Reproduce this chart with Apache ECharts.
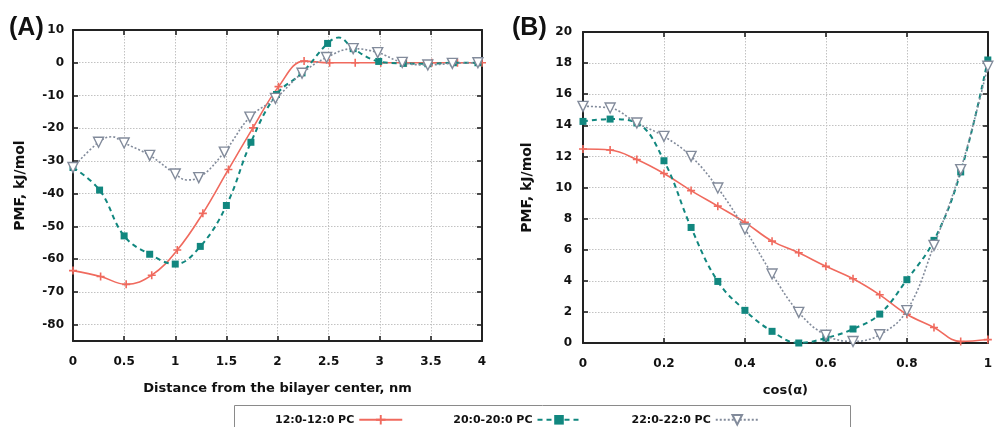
<!DOCTYPE html>
<html>
<head>
<meta charset="utf-8">
<script src="https://cdn.jsdelivr.net/npm/echarts@6/dist/echarts.min.js"></script>
<style>
  html, body { margin: 0; padding: 0; background: #fff; }
  #chart { width: 995px; height: 427px; }
</style>
</head>
<body>
<div id="chart"></div>
<script>
// Series names (lipid tails)
const seriesNames = ['12:0-12:0 PC', '20:0-20:0 PC', '22:0-22:0 PC'];

// Panel A: PMF (kJ/mol) vs distance from bilayer center (nm), points with markers
const pc12A = [[0,-63.5],[0.27,-65.3],[0.52,-67.7],[0.77,-64.9],[1.02,-57.2],[1.27,-46.0],[1.52,-32.6],[1.76,-19.9],[2.01,-7.3],[2.26,0.5],[2.51,0.0],[2.76,0.0],[3.01,0.0],[3.26,0.0],[3.51,0.0],[3.76,0.0],[4.0,0.0]];
const pc20A = [[0,-32.0],[0.26,-38.9],[0.5,-52.9],[0.75,-58.5],[1.0,-61.5],[1.245,-56.1],[1.5,-43.6],[1.74,-24.3],[1.99,-9.7],[2.24,-3.1],[2.49,5.9],[2.74,4.3],[2.99,0.4],[3.23,-0.2],[3.47,-0.3],[3.72,0.0],[3.96,0.0]];
const pc22A = [[0,-32.0],[0.25,-24.3],[0.5,-24.5],[0.75,-28.3],[1.0,-34.0],[1.23,-35.1],[1.48,-27.3],[1.73,-16.6],[1.98,-10.9],[2.24,-3.2],[2.48,1.6],[2.74,4.3],[2.98,3.1],[3.22,0.1],[3.47,-0.7],[3.71,-0.2],[3.96,0.0]];
// Panel A: extra curve points (no marker) at local extrema
const pc12Acurve = [];
const pc20Acurve = [[2.6,7.7]];
const pc22Acurve = [[0.38,-22.6],[1.11,-35.8]];

// Panel B: PMF (kJ/mol) vs cos(alpha)
const pc12B = [[0,12.48],[0.067,12.41],[0.133,11.8],[0.2,10.9],[0.267,9.8],[0.333,8.8],[0.4,7.76],[0.467,6.55],[0.533,5.8],[0.6,4.93],[0.667,4.13],[0.733,3.1],[0.8,1.85],[0.867,1.0],[0.933,0.1],[1.0,0.22]];
const pc20B = [[0,14.25],[0.067,14.4],[0.133,14.15],[0.2,11.72],[0.267,7.43],[0.333,3.96],[0.4,2.1],[0.467,0.75],[0.533,0.0],[0.6,0.32],[0.667,0.9],[0.733,1.86],[0.8,4.07],[0.867,6.6],[0.933,11.0],[1.0,18.2]];
const pc22B = [[0,15.22],[0.067,15.11],[0.133,14.15],[0.2,13.29],[0.267,12.0],[0.333,9.97],[0.4,7.33],[0.467,4.44],[0.533,1.97],[0.6,0.5],[0.667,0.1],[0.733,0.53],[0.8,2.08],[0.867,6.28],[0.933,11.15],[1.0,17.8]];
const pc12Bcurve = [];
const pc20Bcurve = [];
const pc22Bcurve = [];

// Axis ranges and tick steps
const xRangeA = [0, 4], xStepA = 0.5;
const yRangeA = [-85, 10];
const xRangeB = [0, 1], xStepB = 0.2;
const yRangeB = [0, 20], yStepB = 2;

const COLORS = ['#f06a5e', '#11877f', '#828b9b'];
const FONT = 'DejaVu Sans';

function buildData(marks, curve) {
  const pts = marks.map(p => ({ value: p }))
    .concat(curve.map(p => ({ value: p, symbol: 'none' })));
  pts.sort((a, b) => a.value[0] - b.value[0]);
  return pts;
}

const plusPath = 'path://M4,0H6V4H10V6H6V10H4V6H0V4H4Z';

function makeSeries(idx, marks, curve, gridIdx) {
  const base = {
    name: seriesNames[idx],
    type: 'line',
    xAxisIndex: gridIdx * 2,
    yAxisIndex: gridIdx * 2,
    data: buildData(marks, curve),
    smooth: 0.4,
    animation: false,
    emphasis: { disabled: true },
    z: 3 + idx
  };
  if (idx === 0) {
    return Object.assign(base, {
      symbol: plusPath, symbolSize: 8,
      itemStyle: { color: COLORS[0] },
      lineStyle: { color: COLORS[0], width: 1.6, type: 'solid' }
    });
  }
  if (idx === 1) {
    return Object.assign(base, {
      symbol: 'rect', symbolSize: 7,
      itemStyle: { color: COLORS[1] },
      lineStyle: { color: COLORS[1], width: 2, type: [5, 4] }
    });
  }
  return Object.assign(base, {
    symbol: 'triangle', symbolSize: 10, symbolRotate: 180,
    itemStyle: { color: '#ffffff', borderColor: COLORS[2], borderWidth: 1.4 },
    lineStyle: { color: COLORS[2], width: 1.6, type: [2, 2] }
  });
}

const labelStyle = { color: '#111', fontFamily: FONT, fontWeight: 'bold', fontSize: 12 };
const gridLine = { show: true, lineStyle: { color: '#c2c2c2', type: [1.5, 1.5], width: 1 } };
const boxLine = { show: true, onZero: false, lineStyle: { color: '#222', width: 2 } };
const innerTick = { show: true, inside: true, length: 5, lineStyle: { color: '#222', width: 1.6 } };

function mainX(gridIndex, range, step, name) {
  return {
    type: 'value', gridIndex, min: range[0], max: range[1], interval: step,
    position: 'bottom',
    axisLine: boxLine, axisTick: innerTick, splitLine: gridLine,
    axisLabel: Object.assign({ margin: 15 }, labelStyle),
    name, nameLocation: 'middle', nameGap: 41,
    nameTextStyle: { color: '#111', fontFamily: FONT, fontWeight: 'bold', fontSize: 13 }
  };
}
function mirrorX(gridIndex, range, step) {
  return {
    type: 'value', gridIndex, min: range[0], max: range[1], interval: step,
    position: 'top',
    axisLine: boxLine, axisTick: innerTick, splitLine: { show: false },
    axisLabel: { show: false }
  };
}

const option = {
  backgroundColor: '#ffffff',
  animation: false,
  grid: [
    { left: 73, top: 30, width: 409, height: 311 },
    { left: 583, top: 32, width: 409, height: 311 }
  ],
  xAxis: [
    mainX(0, xRangeA, xStepA, 'Distance from the bilayer center, nm'),
    mirrorX(0, xRangeA, xStepA),
    mainX(1, xRangeB, xStepB, 'cos(\u03b1)'),
    mirrorX(1, xRangeB, xStepB)
  ],
  yAxis: [
    {
      type: 'value', gridIndex: 0, min: yRangeA[0], max: yRangeA[1], splitNumber: 10,
      position: 'left',
      axisLine: boxLine, axisTick: innerTick, splitLine: gridLine,
      axisLabel: Object.assign({ margin: 9, formatter: v => (v % 10 === 0 ? String(v) : '') }, labelStyle),
      name: 'PMF, kJ/mol', nameLocation: 'middle', nameGap: 46,
      nameTextStyle: { color: '#111', fontFamily: FONT, fontWeight: 'bold', fontSize: 14 }
    },
    {
      type: 'value', gridIndex: 0, min: yRangeA[0], max: yRangeA[1], splitNumber: 10,
      position: 'right',
      axisLine: boxLine, axisTick: innerTick, splitLine: { show: false },
      axisLabel: { show: false }
    },
    {
      type: 'value', gridIndex: 1, min: yRangeB[0], max: yRangeB[1], interval: yStepB,
      position: 'left',
      axisLine: boxLine, axisTick: innerTick, splitLine: gridLine,
      axisLabel: Object.assign({ margin: 11 }, labelStyle),
      name: 'PMF, kJ/mol', nameLocation: 'middle', nameGap: 49,
      nameTextStyle: { color: '#111', fontFamily: FONT, fontWeight: 'bold', fontSize: 14 }
    },
    {
      type: 'value', gridIndex: 1, min: yRangeB[0], max: yRangeB[1], interval: yStepB,
      position: 'right',
      axisLine: boxLine, axisTick: innerTick, splitLine: { show: false },
      axisLabel: { show: false }
    }
  ],
  legend: {
    data: seriesNames,
    left: 270, top: 409,
    align: 'right',
    itemWidth: 43, itemHeight: 12, itemGap: 50,
    textStyle: { color: '#111', fontFamily: FONT, fontWeight: 'bold', fontSize: 11 },
    selectedMode: false
  },
  graphic: [
    { type: 'rect', left: 232, top: 403, shape: { width: 616, height: 30 },
      style: { fill: 'none', stroke: '#8a8a8a', lineWidth: 1 }, silent: true, z: -1 },
    { type: 'text', left: 9, top: 16,
      style: { text: '(A)', font: 'bold 25px "Liberation Sans", Arial, sans-serif', fill: '#111' } },
    { type: 'text', left: 512, top: 16,
      style: { text: '(B)', font: 'bold 25px "Liberation Sans", Arial, sans-serif', fill: '#111' } }
  ],
  series: [
    makeSeries(0, pc12A, pc12Acurve, 0),
    makeSeries(1, pc20A, pc20Acurve, 0),
    makeSeries(2, pc22A, pc22Acurve, 0),
    makeSeries(0, pc12B, pc12Bcurve, 1),
    makeSeries(1, pc20B, pc20Bcurve, 1),
    makeSeries(2, pc22B, pc22Bcurve, 1)
  ]
};

const chart = echarts.init(document.getElementById('chart'), null, { renderer: 'canvas' });
chart.setOption(option);
</script>
</body>
</html>
